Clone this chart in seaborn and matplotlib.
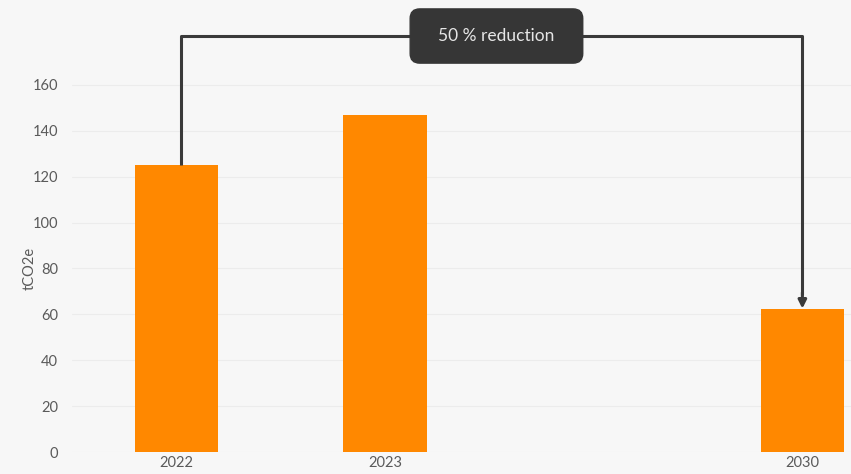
import matplotlib
matplotlib.use("Agg")
import matplotlib.pyplot as plt
import seaborn as sns
import pandas as pd

years = ["2022", "2023", "2030"]
values = [125, 147, 62.5]
order = ["2022", "2023", " ", "2030"]
yticks = [0, 20, 40, 60, 80, 100, 120, 140, 160]
label = "50 % reduction"
ylabel = "tCO2e"

sns.set_theme(style="white")
plt.rcParams["font.family"] = ["Lato", "DejaVu Sans"]

bg = "#f7f7f7"
fig = plt.figure(figsize=(8.51, 4.74), dpi=100, facecolor=bg)
ax = fig.add_axes([72 / 851, 22 / 474, 779 / 851, 452 / 474], facecolor=bg)

df = pd.DataFrame({"year": years, "value": values})
sns.barplot(data=df, x="year", y="value", order=order, color="#ff8800",
            saturation=1, width=0.4, ax=ax, zorder=3, linewidth=0)

ax.set_xlim(-0.5, 3.233)
ax.set_ylim(0, 197)
ax.set_yticks(yticks)
ax.grid(axis="y", color="#ececec", linewidth=0.8, zorder=0)
for s in ax.spines.values():
    s.set_visible(False)
ax.tick_params(axis="both", length=0, labelsize=10.5, colors="#5a5a5a")
ax.tick_params(axis="y", pad=10)
ax.tick_params(axis="x", pad=3)
ax.set_xlabel("")
ax.set_ylabel(ylabel, fontsize=10.5, color="#5a5a5a")
ax.yaxis.set_label_coords(-0.045, 0.407)

# annotation bracket
top = 181.3
x0 = order.index(years[0]) + 0.02
x1 = order.index(years[2])
ax.plot([x0, x0, x1, x1], [values[0], top, top, values[2] + 6],
        color="#3a3a3a", linewidth=2.2, zorder=4, solid_capstyle="butt",
        clip_on=False)
ax.annotate("", xy=(x1, values[2]), xytext=(x1, values[2] + 7),
            arrowprops=dict(arrowstyle="-|>,head_length=0.4,head_width=0.2",
                            color="#3a3a3a", lw=2.2, shrinkA=0, shrinkB=0),
            zorder=5)
ax.text(1.534, top, "  " + label + "  ", ha="center", va="center",
        fontsize=12.5, color="#e6e6e6", zorder=6,
        bbox=dict(boxstyle="round,pad=1.1,rounding_size=0.55",
                  fc="#363636", ec="#363636"))

fig.savefig("out.png", dpi=100, facecolor=bg)
